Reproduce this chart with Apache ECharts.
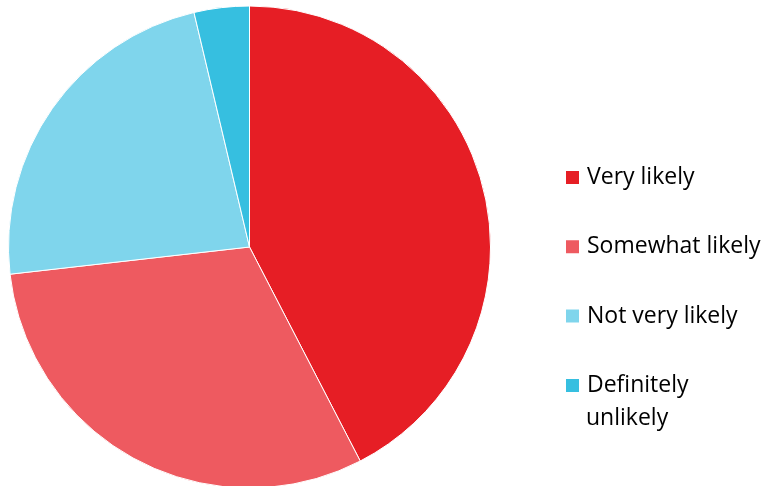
<!DOCTYPE html>
<html><head><meta charset="utf-8">
<script src="https://cdn.jsdelivr.net/npm/echarts@6/dist/echarts.min.js"></script>
<style>html,body{margin:0;padding:0;background:#fff}#c{width:768px;height:486px}</style>
</head><body><div id="c"></div>
<script>
const categories = ['Very likely', 'Somewhat likely', 'Not very likely', 'Definitely unlikely'];
const legendLines = {'Definitely unlikely': ['Definitely', 'unlikely']};
const values = [42.4, 30.8, 23.1, 3.7];
const colors = ['#E61E25', '#EE5A60', '#7FD5EC', '#36BFE0'];

const font = 'Open Sans';
const fs = 23, lh = 29;
const chart = echarts.init(document.getElementById('c'), null, {renderer: 'canvas'});
chart.setOption({
  animation: false,
  color: colors,
  legend: {
    orient: 'vertical',
    left: 564,
    top: 163,
    padding: 0,
    icon: 'rect',
    itemWidth: 15,
    itemHeight: 15,
    itemGap: 40.3,
    textStyle: {fontFamily: font, fontSize: fs, color: '#000', lineHeight: lh, padding: [0, 0, 0, 2]},
    formatter: n => legendLines[n] ? legendLines[n][0] : n,
    data: categories
  },
  graphic: [{
    type: 'text',
    left: 586,
    top: 163 + 3 * (lh + 40.3) + lh + 4,
    style: {text: legendLines['Definitely unlikely'][1], fontFamily: font, fontSize: fs, fill: '#000', lineHeight: lh}
  }],
  series: [{
    type: 'pie',
    center: [249.5, 247],
    radius: [0, 241],
    startAngle: 90,
    clockwise: true,
    label: {show: false},
    labelLine: {show: false},
    itemStyle: {borderColor: '#fff', borderWidth: 1},
    data: categories.map((c, i) => ({name: c, value: values[i]}))
  }]
});
</script></body></html>
